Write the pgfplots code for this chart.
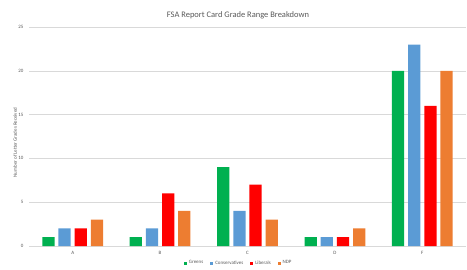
\documentclass[border=0pt]{standalone}
\usepackage{pgfplots}
\pgfplotsset{compat=1.18}
\usepackage{fontspec}
\setmainfont{Carlito}
\definecolor{cgreen}{HTML}{00B050}
\definecolor{cblue}{HTML}{5B9BD5}
\definecolor{cred}{HTML}{FF0000}
\definecolor{corange}{HTML}{ED7D31}
\definecolor{txt}{HTML}{595959}
\definecolor{grid}{HTML}{D9D9D9}
\begin{document}
\begin{tikzpicture}
\path[use as bounding box] (0,0) rectangle (467bp,270bp);
\node[font=\fontsize{8.5}{10}\selectfont, text=txt] at (238bp,255bp) {FSA Report Card Grade Range Breakdown};
\begin{axis}[
  at={(29bp,24bp)}, anchor=south west,
  scale only axis, width=437bp, height=219bp,
  ymin=0, ymax=25, ytick={0,5,...,25},
  xmin=-0.5, xmax=4.5,
  xtick={0,1,2,3,4}, xticklabels={A,B,C,D,F},
  ybar, bar width=0.14,
  axis line style={draw=none},
  axis x line*=bottom,
  x axis line style={draw=grid, line width=0.6pt},
  ymajorgrids, grid style={draw=grid, line width=0.5pt},
  major tick length=0pt,
  tick label style={font=\fontsize{5}{6}\selectfont, text=txt},
  /pgf/number format/assume math mode=true,
  yticklabel style={xshift=-2bp},
  xticklabel style={yshift=-2bp},
  ylabel={Number of Letter Grades Received},
  every axis y label/.style={at={(ticklabel cs:0.5)}, rotate=90, anchor=center, xshift=-6bp,
    font=\fontsize{5}{6}\selectfont, text=txt},
  legend style={at={(0.48,-0.078)}, anchor=center, draw=none, fill=none,
    font=\fontsize{5}{6}\selectfont, text=txt, legend columns=-1,
    /tikz/every even column/.append style={column sep=5bp}},
  legend image code/.code={\fill[#1] (0,-1.5bp) rectangle (3bp,1.5bp);},
  clip=false,
]
\addplot[fill=cgreen, draw=none, bar shift=-0.2775] coordinates {(0,1) (1,1) (2,9) (3,1) (4,20)};
\addplot[fill=cblue, draw=none, bar shift=-0.0925] coordinates {(0,2) (1,2) (2,4) (3,1) (4,23)};
\addplot[fill=cred, draw=none, bar shift=0.0925] coordinates {(0,2) (1,6) (2,7) (3,1) (4,16)};
\addplot[fill=corange, draw=none, bar shift=0.2775] coordinates {(0,3) (1,4) (2,3) (3,2) (4,20)};
\legend{Greens,Conservatives,Liberals,NDP}
\end{axis}
\end{tikzpicture}
\end{document}
